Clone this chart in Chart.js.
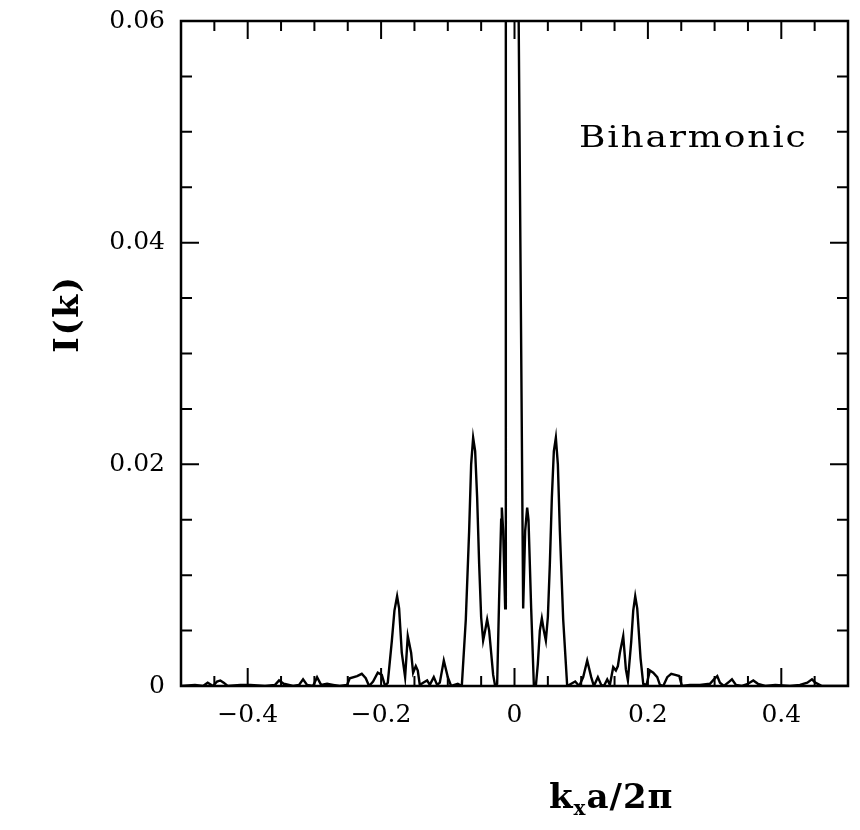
<!DOCTYPE html>
<html>
<head>
<meta charset="utf-8">
<script src="https://cdn.jsdelivr.net/npm/chart.js@4.4.1/dist/chart.umd.min.js"></script>
<style>
  body { margin: 0; background: #fff; }
  #wrap { width: 860px; height: 830px; }
</style>
</head>
<body>
<div id="wrap"><canvas id="spectrum" width="860" height="830"></canvas></div>
<script>
// k_x a / 2pi  and intensity I(k)
var kx = [
  -0.500, -0.479, -0.467, -0.460, -0.452, -0.446, -0.441, -0.436, -0.430, -0.411,
  -0.396, -0.374, -0.359, -0.353, -0.346, -0.332, -0.323, -0.317, -0.311, -0.302,
  -0.296, -0.290, -0.281, -0.272, -0.262, -0.251, -0.247, -0.236, -0.229, -0.223,
  -0.218, -0.212, -0.205, -0.199, -0.194, -0.190, -0.184, -0.180, -0.176, -0.173,
  -0.169, -0.164, -0.160, -0.155, -0.152, -0.148, -0.145, -0.142, -0.137, -0.131,
  -0.127, -0.121, -0.116, -0.112, -0.106, -0.100, -0.095, -0.085, -0.079, -0.073,
  -0.068, -0.065, -0.062, -0.059, -0.056, -0.053, -0.050, -0.047, -0.044, -0.041,
  -0.038, -0.035, -0.032, -0.029, -0.026, -0.023, -0.020, -0.019, -0.017, -0.014,
  -0.013, -0.004, 0.005, 0.013, 0.016, 0.019, 0.021, 0.025, 0.029, 0.032,
  0.035, 0.038, 0.041, 0.044, 0.047, 0.050, 0.053, 0.056, 0.059, 0.062,
  0.065, 0.068, 0.073, 0.079, 0.085, 0.091, 0.097, 0.103, 0.109, 0.115,
  0.119, 0.125, 0.130, 0.134, 0.139, 0.143, 0.148, 0.152, 0.155, 0.158,
  0.163, 0.167, 0.170, 0.175, 0.178, 0.181, 0.184, 0.189, 0.193, 0.198,
  0.203, 0.208, 0.214, 0.218, 0.223, 0.229, 0.235, 0.241, 0.247, 0.251,
  0.263, 0.278, 0.293, 0.299, 0.304, 0.308, 0.314, 0.322, 0.326, 0.332,
  0.341, 0.350, 0.358, 0.365, 0.376, 0.391, 0.413, 0.428, 0.439, 0.446,
  0.451, 0.461, 0.481, 0.500
];
var intensity = [
  0.0000, 0.0001, 0.0000, 0.0003, 0.0000, 0.0004, 0.0005, 0.0003, 0.0000, 0.0001,
  0.0001, 0.0000, 0.0001, 0.0005, 0.0002, 0.0000, 0.0001, 0.0006, 0.0001, 0.0000,
  0.0008, 0.0001, 0.0002, 0.0001, 0.0000, 0.0001, 0.0007, 0.0009, 0.0011, 0.0007,
  0.0000, 0.0004, 0.0012, 0.0010, 0.0000, 0.0003, 0.0040, 0.0068, 0.0081, 0.0070,
  0.0030, 0.0008, 0.0045, 0.0030, 0.0012, 0.0018, 0.0014, 0.0001, 0.0003, 0.0005,
  0.0001, 0.0008, 0.0001, 0.0003, 0.0023, 0.0008, 0.0000, 0.0002, 0.0000, 0.0060,
  0.0140, 0.0200, 0.0224, 0.0212, 0.0170, 0.0110, 0.0062, 0.0041, 0.0050, 0.0060,
  0.0050, 0.0030, 0.0010, 0.0000, 0.0002, 0.0080, 0.0150, 0.0161, 0.0140, 0.0070,
  0.0700, 0.0900, 0.0700, 0.0070, 0.0140, 0.0161, 0.0150, 0.0070, 0.0001, 0.0000,
  0.0020, 0.0050, 0.0061, 0.0050, 0.0041, 0.0062, 0.0110, 0.0170, 0.0212, 0.0224,
  0.0200, 0.0140, 0.0060, 0.0000, 0.0002, 0.0004, 0.0000, 0.0008, 0.0023, 0.0008,
  0.0000, 0.0008, 0.0001, 0.0000, 0.0006, 0.0001, 0.0017, 0.0014, 0.0018, 0.0030,
  0.0045, 0.0015, 0.0005, 0.0040, 0.0068, 0.0081, 0.0070, 0.0025, 0.0002, 0.0001,
  0.0014, 0.0012, 0.0008, 0.0001, 0.0000, 0.0008, 0.0011, 0.0010, 0.0009, 0.0000,
  0.0001, 0.0001, 0.0002, 0.0006, 0.0009, 0.0003, 0.0000, 0.0004, 0.0006, 0.0001,
  0.0000, 0.0002, 0.0005, 0.0002, 0.0000, 0.0001, 0.0000, 0.0001, 0.0003, 0.0006,
  0.0003, 0.0000, 0.0000, 0.0000
];

var xMajorStep = 0.2, xMinorStep = 0.05;
var yMajorStep = 0.02, yMinorStep = 0.005;

var serif = '"DejaVu Serif", "Liberation Serif", serif';

function isMultiple(v, step) {
    return Math.abs(v / step - Math.round(v / step)) < 1e-6;
}

var curve = kx.map(function (x, i) { return { x: x, y: intensity[i] }; });

var framePlugin = {
    id: 'frame',
    beforeDraw: function (chart) {
        var ctx = chart.ctx;
        ctx.save();
        ctx.fillStyle = '#fff';
        ctx.fillRect(0, 0, chart.width, chart.height);
        ctx.restore();
    },
    afterDraw: function (chart) {
        var ctx = chart.ctx, a = chart.chartArea;
        var xs = chart.scales.x, ys = chart.scales.y;
        ctx.save();
        ctx.strokeStyle = '#000';
        ctx.lineWidth = 2.5;
        ctx.strokeRect(a.left, a.top, a.right - a.left, a.bottom - a.top);

        // inward ticks on all four sides
        ctx.lineWidth = 2;
        ctx.beginPath();
        xs.ticks.forEach(function (t) {
            if (t.value <= xs.min || t.value >= xs.max) return;
            var p = xs.getPixelForValue(t.value);
            var len = isMultiple(t.value, xMajorStep) ? 18 : 10;
            ctx.moveTo(p, a.bottom); ctx.lineTo(p, a.bottom - len);
            ctx.moveTo(p, a.top); ctx.lineTo(p, a.top + len);
        });
        ys.ticks.forEach(function (t) {
            if (t.value <= ys.min || t.value >= ys.max) return;
            var p = ys.getPixelForValue(t.value);
            var len = isMultiple(t.value, yMajorStep) ? 18 : 11;
            ctx.moveTo(a.left, p); ctx.lineTo(a.left + len, p);
            ctx.moveTo(a.right, p); ctx.lineTo(a.right - len, p);
        });
        ctx.stroke();

        ctx.fillStyle = '#000';
        ctx.textBaseline = 'alphabetic';
        ctx.textAlign = 'left';

        // panel label, a little expanded like the typewriter face of the scan
        ctx.save();
        ctx.translate(579, 147);
        ctx.scale(1.2, 1);
        ctx.font = '30px ' + serif;
        ctx.letterSpacing = '1.5px';
        ctx.fillText('Biharmonic', 0, 0);
        ctx.restore();

        // x title: k_x a/2pi
        ctx.letterSpacing = '1px';
        var x0 = 549, base = 808;
        ctx.font = 'bold 34px ' + serif;
        ctx.fillText('k', x0, base);
        x0 += ctx.measureText('k').width;
        ctx.font = 'bold 20px ' + serif;
        ctx.fillText('x', x0, base + 7);
        x0 += ctx.measureText('x').width;
        ctx.font = 'bold 34px ' + serif;
        ctx.fillText('a/2\u03C0', x0, base);

        // y title
        ctx.translate(69, 314);
        ctx.rotate(-Math.PI / 2);
        ctx.textAlign = 'center';
        ctx.textBaseline = 'middle';
        ctx.letterSpacing = '2px';
        ctx.font = 'bold 33px ' + serif;
        ctx.fillText('I(k)', 0, 0);
        ctx.restore();
    }
};

var ctx = document.getElementById('spectrum').getContext('2d');
var chart = new Chart(ctx, {
    type: 'scatter',
    data: {
        datasets: [
            {
                data: curve,
                showLine: true,
                borderColor: '#000',
                borderWidth: 2.4,
                pointRadius: 0,
                tension: 0
            }
        ]
    },
    options: {
        responsive: false,
        animation: false,
        layout: { padding: { top: 21, right: 12, left: 0, bottom: 0 } },
        plugins: {
            legend: { display: false },
            tooltip: { enabled: false }
        },
        scales: {
            x: {
                type: 'linear',
                min: -0.5,
                max: 0.5,
                grid: { display: false, drawTicks: false },
                border: { display: false },
                afterFit: function (s) {
                    s.height = 144;
                    s.paddingLeft = 0; s.paddingRight = 0;
                },
                ticks: {
                    stepSize: xMinorStep,
                    autoSkip: false,
                    maxRotation: 0,
                    padding: 14,
                    color: '#000',
                    font: { family: serif, size: 25 },
                    callback: function (v) {
                        if (!isMultiple(v, xMajorStep)) return '';
                        if (Math.abs(v) < 1e-9) return '0';
                        return (v < 0 ? '\u2212' : '') + Math.abs(v).toFixed(1);
                    }
                }
            },
            y: {
                type: 'linear',
                min: 0,
                max: 0.06,
                grid: { display: false, drawTicks: false },
                border: { display: false },
                afterFit: function (s) {
                    s.width = 181;
                    s.paddingTop = 0; s.paddingBottom = 0;
                },
                ticks: {
                    stepSize: yMinorStep,
                    autoSkip: false,
                    padding: 16,
                    color: '#000',
                    font: { family: serif, size: 25 },
                    callback: function (v) {
                        if (!isMultiple(v, yMajorStep)) return '';
                        if (Math.abs(v) < 1e-9) return '0';
                        return v.toFixed(2);
                    }
                }
            }
        }
    },
    plugins: [framePlugin]
});
</script>
</body>
</html>
